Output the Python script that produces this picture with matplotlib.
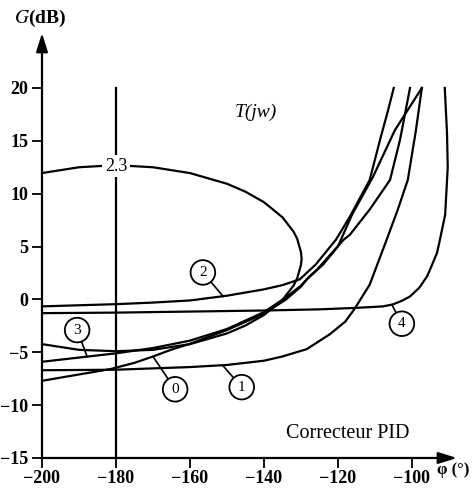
import matplotlib
matplotlib.use('Agg')
import matplotlib.pyplot as plt

plt.rcParams['font.family'] = ['Liberation Serif', 'DejaVu Serif']
plt.rcParams['mathtext.fontset'] = 'stix'

# lieux de Black : phase (deg), gain (dB)
phi0 = [-200, -190, -181.6, -175, -170, -165, -160, -150, -140, -134, -130, -128.4, -124, -120, -116.2, -110.5, -104.6, -97.3]
g0 = [-7.7, -7.1, -6.6, -6.0, -5.4, -4.75, -4.2, -2.9, -1.35, 0.0, 1.2, 1.9, 3.3, 5.0, 8.0, 11.6, 16.0, 20.0]

phi1 = [-200, -180, -160, -150, -140, -135, -128.4, -122.2, -118, -115.4, -111.4, -106.8, -103.8, -101.1, -98.9, -97.3]
g1 = [-6.7, -6.65, -6.4, -6.2, -5.8, -5.4, -4.7, -3.3, -2.1, -0.85, 1.4, 5.66, 8.5, 11.3, 16.0, 20.0]

phi2 = [-200, -180, -170, -160, -150, -140, -135, -130.3, -126, -120.5, -116.8, -111.4, -108.6, -106.5, -104.9]
g2 = [-0.66, -0.45, -0.3, -0.1, 0.35, 0.95, 1.35, 1.9, 3.3, 5.66, 7.8, 11.3, 15.1, 17.8, 20.0]

phi3 = [-200, -190, -180, -170, -160, -150, -140, -134, -130, -127.6, -125.7, -118.4, -116.8, -111.4, -105.9, -103.2, -100.5]
g3 = [-5.9, -5.5, -5.1, -4.6, -3.9, -2.8, -1.2, 0.2, 1.3, 2.2, 2.8, 5.66, 6.1, 8.5, 11.3, 15.1, 20.0]

phi4 = [-200, -180, -160, -140, -124.9, -115, -107.8, -105.1, -102.5, -100.5, -98, -95.9, -94.5, -93.2, -92.4, -91, -90.3, -90.5, -91.1]
g4 = [-1.3, -1.25, -1.15, -1.05, -0.94, -0.8, -0.66, -0.47, -0.1, 0.28, 1.1, 2.17, 3.3, 4.4, 5.66, 8.0, 12.5, 15.75, 20.0]

# contour 2.3 dB de T(jw)
phiM = [-200, -190, -180, -170, -160, -150, -145, -140, -135, -132, -131, -130, -129.8,
        -130, -131, -132, -135, -140, -145, -150, -160, -170, -180, -190, -200]
gM = [11.95, 12.5, 12.7, 12.5, 11.95, 10.94, 10.19, 9.2, 7.77, 6.42, 5.73, 4.49, 3.86,
      3.23, 2.0, 1.3, -0.05, -1.48, -2.47, -3.22, -4.23, -4.77, -4.9, -4.77, -4.23]

courbes = [(phi0, g0), (phi1, g1), (phi2, g2), (phi3, g3), (phi4, g4), (phiM, gM)]

etiquettes = ['0', '1', '2', '3', '4']
pos_etiq = [(-164, -8.5), (-146, -8.3), (-156.5, 2.55), (-190.5, -2.9), (-102.7, -2.3)]
pointe_etiq = [(-170, -5.4), (-151, -6.3), (-151, 0.28), (-187.8, -5.4), (-105.4, -0.5)]

phi_pi = -180
g_pi = [-15, 20]

fig = plt.figure(figsize=(4.74, 4.88), dpi=100)
ax = fig.add_axes([0.0886, 0.0615, 0.8755, 0.8709])

for p, g in courbes:
    ax.plot(p, g, color='k', lw=1.6)

ax.plot([phi_pi, phi_pi], g_pi, color='k', lw=1.6)

ax.text(-180, 12.6, '2.3', ha='center', va='center', fontsize=13,
        bbox=dict(boxstyle='square,pad=0.15', fc='white', ec='none'), zorder=5)

for s, (x, y), (xp, yp) in zip(etiquettes, pos_etiq, pointe_etiq):
    ax.plot([x, xp], [y, yp], color='k', lw=1.2, zorder=4)
    ax.text(x, y, s, ha='center', va='center', fontsize=11, zorder=6,
            bbox=dict(boxstyle='circle,pad=0.38', fc='white', ec='k', lw=1.3))

ax.text(-142.2, 17.7, 'T(jw)', style='italic', fontsize=14, ha='center', va='center')
ax.text(-117.3, -12.7, 'Correcteur PID', fontsize=14.5, ha='center', va='center')

ax.set_xlim(-200, -87.8)
ax.set_ylim(-15, 25.2)
ax.set_xticks([-200, -180, -160, -140, -120, -100])
ax.set_yticks([-15, -10, -5, 0, 5, 10, 15, 20])
ax.tick_params(direction='out', length=7, width=1.3, labelsize=13)
ax.tick_params(axis='x', pad=2)
ax.tick_params(axis='y', pad=3)
for lab in ax.get_xticklabels() + ax.get_yticklabels():
    lab.set_fontweight('bold')

for sp in ax.spines.values():
    sp.set_visible(False)
fleche = dict(arrowstyle='-|>,head_length=0.8,head_width=0.25', lw=1.6, color='k',
              shrinkA=0, shrinkB=0, mutation_scale=14)
ax.annotate('', xy=(0, 1), xytext=(0, 0), xycoords='axes fraction',
            arrowprops=fleche, annotation_clip=False)
ax.annotate('', xy=(1, 0), xytext=(0, 0), xycoords='axes fraction',
            arrowprops=fleche, annotation_clip=False)

fig.text(0.0844, 0.963, '$G$(dB)', fontsize=14, fontweight='bold', ha='center', va='center')
fig.text(0.957, 0.036, 'φ (°)', fontsize=12, fontweight='bold', ha='center', va='center')

fig.savefig('out.png', dpi=100)
